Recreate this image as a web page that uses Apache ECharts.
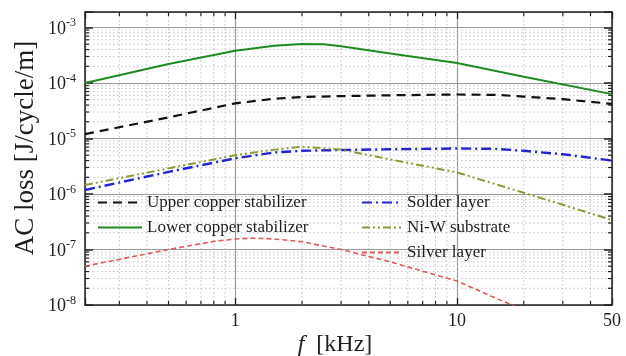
<!DOCTYPE html>
<html><head><meta charset="utf-8">
<script src="https://cdn.jsdelivr.net/npm/echarts@6/dist/echarts.min.js"></script>
<style>html,body{margin:0;padding:0;background:#fff}#c{width:626px;height:356px}</style>
</head><body><div id="c"></div>
<script>
// ---- data ----
const seriesNames = ['Upper copper stabilizer','Lower copper stabilizer','Solder layer','Ni-W substrate','Silver layer'];

const upperFreq  = [0.21, 0.5, 1, 1.5, 2, 3, 5, 10, 15, 20, 30, 50];
const upperLoss  = [1.2e-5, 2.4e-5, 4.3e-5, 5.2e-5, 5.6e-5, 5.8e-5, 6.0e-5, 6.2e-5, 6.1e-5, 5.7e-5, 5.1e-5, 4.2e-5];

const lowerFreq  = [0.21, 0.5, 1, 1.5, 2, 2.5, 3, 5, 10, 20, 50];
const lowerLoss  = [1.0e-4, 2.2e-4, 3.8e-4, 4.7e-4, 5.05e-4, 5.0e-4, 4.6e-4, 3.4e-4, 2.3e-4, 1.3e-4, 6.3e-5];

const solderFreq = [0.21, 0.5, 1, 1.5, 2, 3, 5, 10, 15, 20, 30, 50];
const solderLoss = [1.18e-6, 2.5e-6, 4.4e-6, 5.6e-6, 6.0e-6, 6.2e-6, 6.4e-6, 6.6e-6, 6.5e-6, 6.0e-6, 5.2e-6, 4.0e-6];

const niwFreq    = [0.21, 0.5, 1, 1.5, 2, 3, 5, 10, 20, 30, 50];
const niwLoss    = [1.45e-6, 2.9e-6, 5.0e-6, 6.3e-6, 7.1e-6, 6.3e-6, 4.2e-6, 2.45e-6, 1.05e-6, 6.4e-7, 3.4e-7];

const silverFreq = [0.21, 0.5, 0.8, 1, 1.2, 1.5, 2, 3, 5, 10, 20];
const silverLoss = [5.0e-8, 1.0e-7, 1.4e-7, 1.55e-7, 1.6e-7, 1.55e-7, 1.38e-7, 1.0e-7, 6.0e-8, 2.7e-8, 8e-9];

// ---- axes / ticks ----
const xTickLabels = ['1', '10', '50'];
const yTickExponents = [-8, -7, -6, -5, -4, -3];
const xMinorTicks = [0.3,0.4,0.5,0.6,0.7,0.8,0.9, 2,3,4,5,6,7,8,9, 20,30,40];
const yMinorMultipliers = [2,3,4,5,6,7,8,9];
const yMinorDecades = [-8,-7,-6,-5,-4];

const X_MIN = 0.21, X_MAX = 50, Y_MIN = 1e-8, Y_MAX = 1.9e-3;
const FONT = "'Liberation Serif','Times New Roman',serif";
const TXT = '#1e1e1e';

const yMinorTicks = [];
yMinorDecades.forEach(e => yMinorMultipliers.forEach(k => yMinorTicks.push(+(k * Math.pow(10, e)).toPrecision(3))));

function pairs(f, v) { return f.map((x, i) => [x, v[i]]); }

function xLabel(v) {
  const s = String(+(+v).toPrecision(6));
  return xTickLabels.indexOf(s) >= 0 ? s : '';
}
function yLabel(v) {
  const e = Math.log10(v), r = Math.round(e);
  if (Math.abs(e - r) > 1e-3 || yTickExponents.indexOf(r) < 0) return '';
  return '{b|10}{s|' + r + '}';
}

const axisLineStyle = { color: '#222', width: 1.5 };
const majorTick = { inside: true, length: 7, lineStyle: { color: '#222', width: 1.3 } };

const chart = echarts.init(document.getElementById('c'), null, { renderer: 'canvas' });

function lineSeries(name, data, color, width, dash) {
  return {
    name, type: 'line', data, xAxisIndex: 0, yAxisIndex: 0,
    symbol: 'none', showSymbol: false, smooth: false, clip: true, z: 5,
    lineStyle: { color, width, type: dash },
    itemStyle: { color },
    animation: false
  };
}

const legendText = { fontFamily: FONT, fontSize: 17, color: TXT, lineHeight: 16 };
const hiddenSymbol = { color: 'rgba(0,0,0,0)', borderColor: 'rgba(0,0,0,0)', borderWidth: 0 };

const option = {
  animation: false,
  backgroundColor: '#fff',
  grid: { left: 85, right: 14, top: 12, bottom: 51, containLabel: false },
  xAxis: [
    {
      type: 'log', logBase: 10, min: X_MIN, max: X_MAX, position: 'bottom',
      axisLine: { show: true, onZero: false, lineStyle: axisLineStyle },
      axisTick: majorTick,
      axisLabel: { formatter: xLabel, margin: 7, fontFamily: FONT, fontSize: 18, color: TXT, showMinLabel: true, showMaxLabel: true, hideOverlap: false },
      splitLine: { show: true, lineStyle: { color: '#9a9a9a', width: 1.2 } }
    },
    {
      type: 'log', logBase: 10, min: X_MIN, max: X_MAX, position: 'top',
      axisLine: { show: true, onZero: false, lineStyle: axisLineStyle },
      axisTick: majorTick, axisLabel: { show: false }, splitLine: { show: false }
    }
  ],
  yAxis: [
    {
      type: 'log', logBase: 10, min: Y_MIN, max: Y_MAX, position: 'left',
      axisLine: { show: true, onZero: false, lineStyle: axisLineStyle },
      axisTick: { inside: true, length: 8, lineStyle: { color: '#222', width: 1.5 } },
      axisLabel: {
        formatter: yLabel, margin: 9, showMinLabel: true, showMaxLabel: true, hideOverlap: false,
        rich: {
          b: { fontFamily: FONT, fontSize: 18, color: TXT, padding: [3, 0, 0, 0] },
          s: { fontFamily: FONT, fontSize: 12, color: TXT, padding: [0, 0, 9, 0] }
        }
      },
      splitLine: { show: true, lineStyle: { color: '#9a9a9a', width: 1.2 } }
    },
    {
      type: 'log', logBase: 10, min: Y_MIN, max: Y_MAX, position: 'right',
      axisLine: { show: true, onZero: false, lineStyle: axisLineStyle },
      axisTick: { inside: true, length: 8, lineStyle: { color: '#222', width: 1.5 } },
      axisLabel: { show: false }, splitLine: { show: false }
    }
  ],
  legend: [
    {
      data: seriesNames.slice(0, 2), orient: 'vertical', left: 97, top: 194,
      itemWidth: 44, itemHeight: 14, itemGap: 8, padding: 0,
      itemStyle: hiddenSymbol, textStyle: legendText
    },
    {
      data: seriesNames.slice(2), orient: 'vertical', left: 361, top: 194,
      itemWidth: 40, itemHeight: 14, itemGap: 8, padding: 0,
      itemStyle: hiddenSymbol, textStyle: legendText
    }
  ],
  graphic: [
    {
      type: 'text', x: 26, y: 148, rotation: Math.PI / 2,
      style: { text: 'AC loss [J/cycle/m]', fontFamily: FONT, fontSize: 27, fill: TXT, align: 'center', verticalAlign: 'middle' }
    },
    {
      type: 'text', x: 335, y: 345,
      style: {
        text: '{i|f}  [kHz]', fontFamily: FONT, fontSize: 24, fill: TXT, align: 'center', verticalAlign: 'middle',
        rich: { i: { fontFamily: FONT, fontStyle: 'italic', fontSize: 24, fill: TXT } }
      }
    }
  ],
  series: [
    {
      type: 'custom', name: '_xminor', xAxisIndex: 0, yAxisIndex: 0, z: 1, silent: true, clip: false,
      data: xMinorTicks.map(v => [v, 1e-5]),
      renderItem: function (params, api) {
        const cs = params.coordSys;
        const x = api.coord([api.value(0), api.value(1)])[0];
        return { type: 'group', children: [
          { type: 'line', shape: { x1: x, y1: cs.y, x2: x, y2: cs.y + cs.height }, style: { stroke: '#c4c4c4', lineWidth: 1, lineDash: [1.5, 2.5] } },
          { type: 'line', shape: { x1: x, y1: cs.y, x2: x, y2: cs.y + 4 }, style: { stroke: '#222', lineWidth: 1.2 } },
          { type: 'line', shape: { x1: x, y1: cs.y + cs.height, x2: x, y2: cs.y + cs.height - 4 }, style: { stroke: '#222', lineWidth: 1.2 } }
        ] };
      }
    },
    {
      type: 'custom', name: '_yminor', xAxisIndex: 0, yAxisIndex: 0, z: 1, silent: true, clip: false,
      data: yMinorTicks.map(v => [1, v]),
      renderItem: function (params, api) {
        const cs = params.coordSys;
        const y = api.coord([api.value(0), api.value(1)])[1];
        return { type: 'group', children: [
          { type: 'line', shape: { x1: cs.x, y1: y, x2: cs.x + cs.width, y2: y }, style: { stroke: '#c4c4c4', lineWidth: 1, lineDash: [1.5, 2.5] } },
          { type: 'line', shape: { x1: cs.x, y1: y, x2: cs.x + 4, y2: y }, style: { stroke: '#222', lineWidth: 1.2 } },
          { type: 'line', shape: { x1: cs.x + cs.width, y1: y, x2: cs.x + cs.width - 4, y2: y }, style: { stroke: '#222', lineWidth: 1.2 } }
        ] };
      }
    },
    lineSeries(seriesNames[0], pairs(upperFreq, upperLoss), '#111111', 2.2, [9, 6]),
    lineSeries(seriesNames[1], pairs(lowerFreq, lowerLoss), '#1f8a24', 2, 'solid'),
    lineSeries(seriesNames[2], pairs(solderFreq, solderLoss), '#2323d6', 2.4, [10, 4, 2, 4]),
    lineSeries(seriesNames[3], pairs(niwFreq, niwLoss), '#8a9a38', 2, [8, 3, 2, 3, 2, 3]),
    lineSeries(seriesNames[4], pairs(silverFreq, silverLoss), '#e05a5a', 1.6, [5, 3])
  ]
};
chart.setOption(option);
</script>
</body></html>
